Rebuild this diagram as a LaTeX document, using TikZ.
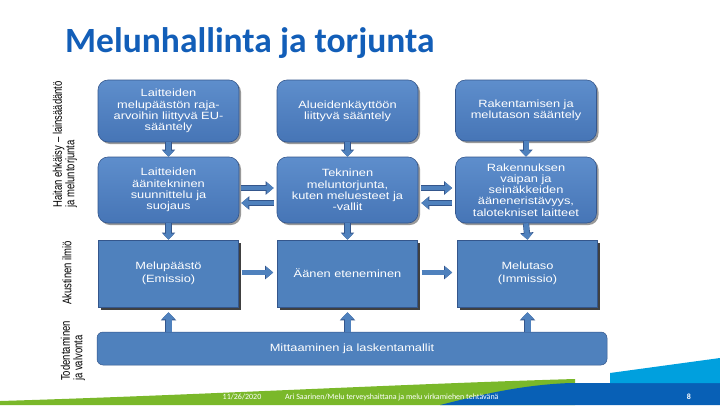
\documentclass[tikz,border=0pt]{standalone}
\usepackage{fontspec}
\setmainfont{Liberation Sans}
\newfontfamily\boxfont[FakeStretch=1.22]{Liberation Sans}
\newfontfamily\sidefont[FakeStretch=0.76]{Liberation Sans}
\newfontfamily\titlefont{Carlito}
\usetikzlibrary{arrows.meta,shadows,calc}
\definecolor{boxblue}{RGB}{79,129,189}
\definecolor{boxtop}{RGB}{94,142,204}
\definecolor{boxbot}{RGB}{70,117,182}
\definecolor{edgeblue}{RGB}{52,86,140}
\definecolor{titleblue}{RGB}{18,94,184}
\definecolor{fgreen}{RGB}{122,184,42}
\definecolor{fblue}{RGB}{8,96,182}
\definecolor{fcyan}{RGB}{0,160,222}
\begin{document}
\begin{tikzpicture}[x=1pt,y=-1pt,
  rbox/.style={rectangle, rounded corners=10pt, top color=boxtop, bottom color=boxbot,
    draw=edgeblue, line width=0.6pt, minimum width=141pt, text=white, align=center,
    font=\boxfont\fontsize{10.5}{11.2}\selectfont, inner sep=2pt,
    drop shadow={shadow xshift=2pt, shadow yshift=-2pt, opacity=0.4, fill=black}},
  sbox/.style={rectangle, fill=boxblue, draw=edgeblue, line width=0.6pt,
    minimum width=140pt, minimum height=67pt, text=white, align=center,
    font=\boxfont\fontsize{10.5}{12.5}\selectfont, inner sep=2pt,
    drop shadow={shadow xshift=2.5pt, shadow yshift=-2.5pt, opacity=0.75, fill=black}},
  sidelabel/.style={rotate=90, anchor=west, align=left, inner sep=0pt,
    font=\sidefont\fontsize{12.5}{12.5}\selectfont, text=black},
  varrow/.style={draw=boxblue, line width=5pt, -{Triangle[length=6pt,width=11pt]},
    preaction={draw=edgeblue, line width=6.2pt, -{Triangle[length=7pt,width=13pt]}}},
  harrow/.style={draw=boxblue, line width=4.5pt, -{Triangle[length=7pt,width=11pt]},
    preaction={draw=edgeblue, line width=5.7pt, -{Triangle[length=8pt,width=13pt]}}},
  uarrow/.style={draw=boxblue, line width=6pt, -{Triangle[length=7pt,width=13pt]},
    preaction={draw=edgeblue, line width=7.2pt, -{Triangle[length=8pt,width=15pt]}}},
  foot/.style={text=white, font=\titlefont\fontsize{8}{9}\selectfont, inner sep=0pt}
]
\useasboundingbox (0,0) rectangle (720,405);
\fill[white] (0,0) rectangle (720,405);

% footer bands
\fill[fgreen] (0,405) -- (0,401) .. controls (200,395) and (400,384) .. (575,379) -- (575,405) -- cycle;
\fill[fblue] (440,405) .. controls (480,395) and (520,385) .. (570,383) -- (720,383) -- (720,405) -- cycle;
\fill[fcyan] (610,383) -- (610,373) -- (720,358) -- (720,383) -- cycle;

% title
\node[anchor=base west, inner sep=0pt, text=titleblue, font=\titlefont\bfseries\fontsize{35.5}{40}\selectfont] (title) at (65,52) {Melunhallinta ja torjunta};

% side labels
\node[sidelabel] (lab1) at (65,208) {Haitan ehkäisy – lainsäädäntö\\ja meluntorjunta};
\node[sidelabel] (lab2) at (67,305) {Akustinen ilmiö};
\node[sidelabel] (lab3) at (73,381) {Todentaminen\\ja valvonta};

% row 1
\node[rbox, minimum height=62pt] (A1) at (168.5,111) {Laitteiden\\melupäästön raja-\\arvoihin liittyvä EU-\\sääntely};
\node[rbox, minimum height=62pt] (A2) at (347.5,111) {Alueidenkäyttöön\\liittyvä sääntely};
\node[rbox, minimum height=61pt] (A3) at (526,110.5) {Rakentamisen ja\\melutason sääntely};

% row 2
\node[rbox, minimum height=66pt] (B1) at (168.5,190) {Laitteiden\\äänitekninen\\suunnittelu ja\\suojaus};
\node[rbox, minimum height=66pt] (B2) at (347.5,190) {Tekninen\\meluntorjunta,\\kuten meluesteet ja\\-vallit};
\node[rbox, minimum height=66pt] (B3) at (526,190) {Rakennuksen\\vaipan ja\\seinäkkeiden\\ääneneristävyys,\\talotekniset laitteet};

% row 3
\node[sbox] (C1) at (168.5,273.5) {Melupäästö\\(Emissio)};
\node[sbox] (C2) at (347.5,273.5) {Äänen eteneminen};
\node[sbox] (C3) at (527.5,273.5) {Melutaso\\(Immissio)};

% bottom bar
\node[rectangle, rounded corners=6pt, fill=boxblue, draw=edgeblue, line width=0.5pt,
  minimum width=510pt, minimum height=33pt, text=white,
  font=\boxfont\fontsize{10.5}{11.2}\selectfont] (D) at (352,348.5) {Mittaaminen ja laskentamallit};

% vertical arrows
\draw[varrow] (A1.south) -- (B1.north);
\draw[varrow] (A2.south) -- (B2.north);
\draw[varrow] (A3.south) -- (B3.north);
\draw[varrow] (B1.south) -- (C1.north);
\draw[varrow] (B2.south) -- (C2.north);
\draw[varrow] (B3.south) -- (C3.north);

% horizontal arrows row 2
\draw[harrow, shorten <=2pt, shorten >=3pt] ([yshift=2pt]B1.east) -- ([yshift=2pt]B2.west);
\draw[harrow, shorten <=3pt, shorten >=2pt] ([yshift=-13pt]B2.west) -- ([yshift=-13pt]B1.east);
\draw[harrow, shorten <=3pt, shorten >=3pt] ([yshift=2pt]B2.east) -- ([yshift=2pt]B3.west);
\draw[harrow, shorten <=3pt, shorten >=3pt] ([yshift=-13pt]B3.west) -- ([yshift=-13pt]B2.east);

% horizontal arrows row 3
\draw[harrow, shorten <=3pt, shorten >=4pt] ([yshift=1pt]C1.east) -- ([yshift=1pt]C2.west);
\draw[harrow, shorten <=4pt, shorten >=5pt] ([yshift=1pt]C2.east) -- ([yshift=1pt]C3.west);

% up arrows from bottom bar
\draw[uarrow, shorten >=5pt] (D.north -| C1.south) -- (C1.south);
\draw[uarrow, shorten >=5pt] (D.north -| C2.south) -- (C2.south);
\draw[uarrow, shorten >=5pt] (D.north -| C3.south) -- (C3.south);

% footer texts
\node[foot] (date) at (242,397) {11/26/2020};
\node[foot, anchor=west] (ftext) at (285,397) {Ari Saarinen/Melu terveyshaittana ja melu virkamiehen tehtävänä};
\node[foot, font=\titlefont\bfseries\fontsize{8}{9}\selectfont] (pnum) at (689,397) {8};
\end{tikzpicture}
\end{document}
